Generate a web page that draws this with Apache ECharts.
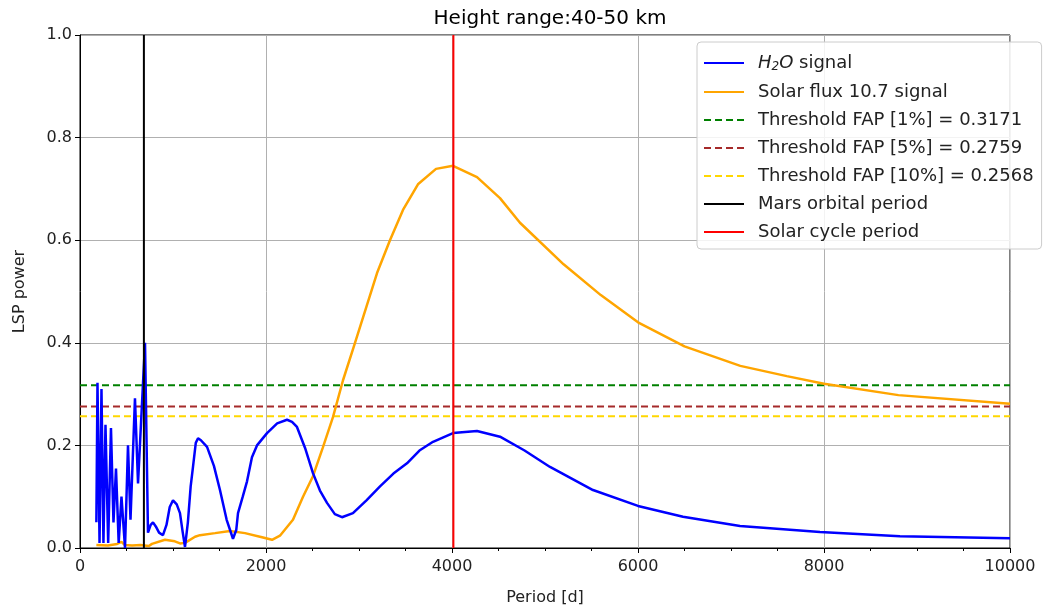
<!DOCTYPE html>
<html>
<head>
    <meta charset="utf-8"/>
    <title>Height range:40-50 km</title>
    <script type="text/javascript" src="https://cdn.jsdelivr.net/npm/echarts@6/dist/echarts.min.js"></script>
    <style>
        html, body { margin: 0; padding: 0; background: #fff; }
    </style>
</head>
<body>
<div id="main" style="width: 1043px;height:612px;"></div>
<script type="text/javascript">
    // H2O periodogram (period in days, LSP power)
    var h2oPeriod = [176, 188, 210, 231, 252, 274, 303, 333, 360, 387, 416, 446, 484, 516, 543, 591, 624, 699, 731,
        760, 785, 815, 850, 892, 930, 965, 1000, 1040, 1075, 1105, 1129, 1160, 1190, 1215, 1245, 1269, 1300, 1366,
        1440, 1505, 1577, 1645, 1680, 1699, 1750, 1796, 1849, 1903, 2011, 2120, 2226, 2280, 2333, 2420, 2505, 2580,
        2656, 2740, 2817, 2935, 3080, 3226, 3370, 3516, 3650, 3796, 4011, 4269, 4516, 4780, 5054, 5516, 6000, 6484,
        7097, 7957, 8817, 10000];
    var h2oPower = [0.05, 0.322, 0.01, 0.31, 0.01, 0.24, 0.01, 0.234, 0.05, 0.155, 0.01, 0.1, 0.0, 0.2, 0.055, 0.292, 0.126, 0.40, 0.03,
        0.045, 0.05, 0.042, 0.03, 0.025, 0.045, 0.08, 0.093, 0.085, 0.068, 0.03, 0.002, 0.05, 0.12, 0.158, 0.205, 0.214, 0.21, 0.197,
        0.16, 0.113, 0.055, 0.018, 0.035, 0.068, 0.1, 0.13, 0.177, 0.2, 0.224, 0.243, 0.25, 0.246, 0.236, 0.195, 0.146, 0.112,
        0.088, 0.066, 0.06, 0.068, 0.093, 0.12, 0.145, 0.165, 0.19, 0.207, 0.224, 0.228, 0.217, 0.19, 0.158, 0.113, 0.082, 0.061,
        0.043, 0.031, 0.023, 0.019];

    // Solar flux 10.7 periodogram
    var fluxPeriod = [176, 300, 400, 446, 480, 560, 650, 740, 774, 914, 1020, 1075, 1129, 1237, 1290, 1452, 1613, 1774, 1957,
        2022, 2065, 2150, 2290, 2398, 2505, 2610, 2720, 2828, 2957, 3194, 3333, 3473, 3634, 3828, 4011, 4269, 4516,
        4731, 5200, 5600, 6000, 6500, 7100, 7600, 8000, 8800, 10000];
    var fluxPower = [0.006, 0.005, 0.008, 0.012, 0.006, 0.005, 0.006, 0.004, 0.008, 0.016, 0.013, 0.009, 0.01, 0.022, 0.025, 0.029, 0.033, 0.029, 0.021,
        0.018, 0.016, 0.024, 0.055, 0.1, 0.14, 0.195, 0.255, 0.327, 0.40, 0.536, 0.60, 0.659, 0.709, 0.739, 0.745, 0.723, 0.682,
        0.634, 0.553, 0.493, 0.44, 0.393, 0.355, 0.335, 0.32, 0.298, 0.281];

    // thresholds and reference periods
    var fapNames = ['Threshold FAP [1%] = 0.3171', 'Threshold FAP [5%] = 0.2759', 'Threshold FAP [10%] = 0.2568'];
    var fapValues = [0.3171, 0.2759, 0.2568];
    var fapColors = ['green', 'brown', 'gold'];
    var marsPeriod = 687;
    var solarCyclePeriod = 4015;
    var xRange = [0, 10000];

    function pairs(xs, ys) {
        var out = [];
        for (var i = 0; i < xs.length; i++) {
            out.push([xs[i], ys[i]]);
        }
        return out;
    }

    function lineSeries(name, color, width, dash, z, data) {
        return {
            name: name,
            type: 'line',
            symbol: 'none',
            showSymbol: false,
            lineStyle: {color: color, width: width, type: dash || 'solid'},
            itemStyle: {color: color},
            z: z,
            data: data
        };
    }

    var series = [
        lineSeries('H2O signal', 'blue', 2.5, null, 5, pairs(h2oPeriod, h2oPower)),
        lineSeries('Solar flux 10.7 signal', 'orange', 2.5, null, 4, pairs(fluxPeriod, fluxPower))
    ];
    for (var k = 0; k < fapNames.length; k++) {
        series.push(lineSeries(fapNames[k], fapColors[k], 2, [7, 4], 3,
            [[xRange[0], fapValues[k]], [xRange[1], fapValues[k]]]));
    }
    series.push(lineSeries('Mars orbital period', 'black', 2, null, 6, [[marsPeriod, 0], [marsPeriod, 1]]));
    series.push(lineSeries('Solar cycle period', 'red', 2, null, 6, [[solarCyclePeriod, 0], [solarCyclePeriod, 1]]));

    var font = 'DejaVu Sans';
    var myChart = echarts.init(document.getElementById('main'));
    var option = {
        animation: false,
        backgroundColor: '#fff',
        textStyle: {fontFamily: font},
        title: {
            text: 'Height range:40-50 km',
            left: 545,
            textAlign: 'center',
            top: 4,
            textStyle: {fontFamily: font, fontSize: 20, fontWeight: 'normal', color: '#000'}
        },
        legend: {
            orient: 'vertical',
            left: 697,
            top: 42,
            padding: [12, 8, 8, 6],
            itemWidth: 40,
            itemHeight: 14,
            itemGap: 10,
            backgroundColor: 'rgba(255,255,255,0.85)',
            borderColor: '#cccccc',
            borderWidth: 1,
            borderRadius: 4,
            itemStyle: {opacity: 0, borderWidth: 0},
            data: series.map(function (s) { return s.name; }),
            formatter: function (name) {
                if (name === 'H2O signal') {
                    return '{i|H}{s|2}{i|O} signal';
                }
                return name;
            },
            textStyle: {
                fontFamily: font,
                fontSize: 18,
                lineHeight: 18,
                color: '#222',
                padding: [0, 0, 0, 9],
                rich: {
                    i: {fontFamily: font, fontSize: 18, fontStyle: 'italic', color: '#222'},
                    s: {fontFamily: font, fontSize: 12, fontStyle: 'italic', color: '#222', padding: [8, 0, 0, 0]}
                }
            }
        },
        grid: {
            left: 80,
            right: 33,
            top: 35,
            bottom: 64,
            show: true,
            borderColor: '#000',
            borderWidth: 1,
            containLabel: false
        },
        xAxis: {
            type: 'value',
            min: 0,
            max: 10000,
            interval: 2000,
            name: 'Period [d]',
            nameLocation: 'middle',
            nameGap: 42,
            nameTextStyle: {fontFamily: font, fontSize: 16, color: '#222'},
            axisLine: {show: true, onZero: false, lineStyle: {color: '#000'}},
            axisTick: {show: true, length: 5, lineStyle: {color: '#000'}},
            minorTick: {show: true, splitNumber: 4, length: 3, lineStyle: {color: '#000'}},
            axisLabel: {
                fontFamily: font, fontSize: 16, color: '#222', margin: 11,
                formatter: function (v) { return String(v); }
            },
            splitLine: {show: true, lineStyle: {color: '#b0b0b0', width: 1}}
        },
        yAxis: {
            type: 'value',
            min: 0,
            max: 1,
            interval: 0.2,
            name: 'LSP power',
            nameLocation: 'middle',
            nameGap: 52,
            nameTextStyle: {fontFamily: font, fontSize: 16, color: '#222'},
            axisLine: {show: true, lineStyle: {color: '#000'}},
            axisTick: {show: true, length: 5, lineStyle: {color: '#000'}},
            axisLabel: {
                fontFamily: font, fontSize: 16, color: '#222', margin: 8,
                formatter: function (v) { return v.toFixed(1); }
            },
            splitLine: {show: true, lineStyle: {color: '#b0b0b0', width: 1}}
        },
        series: series
    };
    myChart.setOption(option);
</script>
</body>
</html>
